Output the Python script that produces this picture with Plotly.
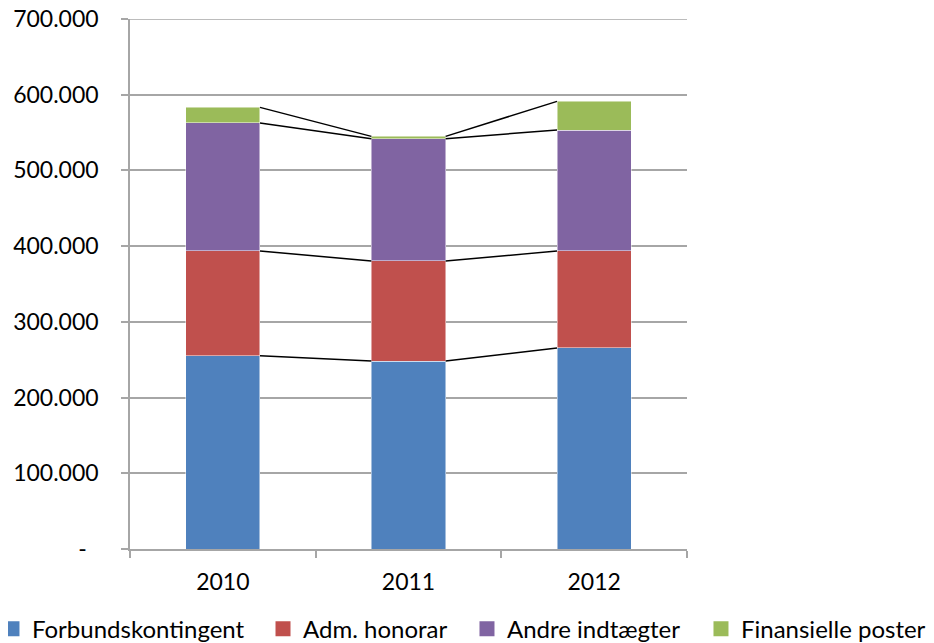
import plotly.graph_objects as go

years = ["2010", "2011", "2012"]
forbund = [255300, 248300, 265500]
adm = [138300, 132100, 128100]
andre = [169100, 161500, 159800]
finans = [20600, 3100, 37800]

series_names = ["Forbundskontingent", "Adm. honorar", "Andre indtægter", "Finansielle poster"]
series_vals = [forbund, adm, andre, finans]
colors = ["#4F81BD", "#C0504D", "#8064A2", "#9BBB59"]

ytick_vals = [0, 100000, 200000, 300000, 400000, 500000, 600000, 700000]
ytick_text = ["-\u00a0\u00a0", "100.000", "200.000", "300.000", "400.000", "500.000", "600.000", "700.000"]

FONT = "Lato, Open Sans, sans-serif"
GRID = "#A6A6A6"
bar_w = 0.4
xpos = list(range(len(years)))

legend_ids = ["legend", "legend2", "legend3", "legend4"]
legend_x = [-0.2478, 0.2388, 0.6050, 1.0251]

fig = go.Figure()
for name, vals, col, lid in zip(series_names, series_vals, colors, legend_ids):
    fig.add_trace(go.Bar(
        x=xpos, y=vals, name=name, width=bar_w, legendgroup=name, showlegend=False,
        marker=dict(color=col, line=dict(width=0.8, color="rgba(255,255,255,0.6)")),
    ))
    # legend entry with a larger square swatch
    fig.add_trace(go.Scatter(
        x=[None], y=[None], name=name, mode="markers", legend=lid, legendgroup=name,
        marker=dict(symbol="square", size=15, color=col), hoverinfo="skip",
    ))

# series lines connecting the tops of each stacked segment
cum = [0] * len(years)
for vals in series_vals:
    cum = [c + v for c, v in zip(cum, vals)]
    for i in range(len(years) - 1):
        fig.add_trace(go.Scatter(
            x=[xpos[i] + bar_w / 2, xpos[i + 1] - bar_w / 2],
            y=[cum[i], cum[i + 1]],
            mode="lines", line=dict(color="black", width=1.5),
            showlegend=False, hoverinfo="skip",
        ))

# top gridline (plotly suppresses the gridline at the range edge)
fig.add_shape(type="line", xref="paper", x0=0, x1=1, yref="y", y0=ytick_vals[-1], y1=ytick_vals[-1],
              line=dict(color=GRID, width=1.5), layer="below")

legend_common = dict(
    orientation="h", xanchor="left", y=-0.151, yanchor="middle",
    font=dict(size=24, color="#000000"), itemwidth=30, bgcolor="rgba(0,0,0,0)",
    itemsizing="trace",
)

layout_legends = {lid: dict(legend_common, x=lx) for lid, lx in zip(legend_ids, legend_x)}

fig.update_layout(
    barmode="stack",
    width=926, height=635,
    margin=dict(l=122, r=247, t=11, b=94, autoexpand=False),
    paper_bgcolor="white", plot_bgcolor="white",
    font=dict(family=FONT, size=23, color="#000000"),
    xaxis=dict(
        range=[-0.5, 2.5], tickmode="array", tickvals=xpos, ticktext=years,
        ticks="", showgrid=False, showline=True, linecolor=GRID, linewidth=1.5,
        ticklabelstandoff=12,
        minor=dict(tickmode="array", tickvals=[-0.5, 0.5, 1.5, 2.5], ticks="outside",
                   ticklen=7, tickcolor=GRID, tickwidth=1.5),
        zeroline=False,
    ),
    yaxis=dict(
        range=[0, 700000], tickmode="array", tickvals=ytick_vals, ticktext=ytick_text,
        ticks="outside", ticklen=7, tickcolor=GRID, tickwidth=1.5,
        showgrid=True, gridcolor=GRID, gridwidth=1.5,
        showline=True, linecolor=GRID, linewidth=1.5,
        ticklabelstandoff=18, zeroline=False, ticklabeloverflow="allow",
    ),
    **layout_legends,
)

fig.write_html("out.html")
